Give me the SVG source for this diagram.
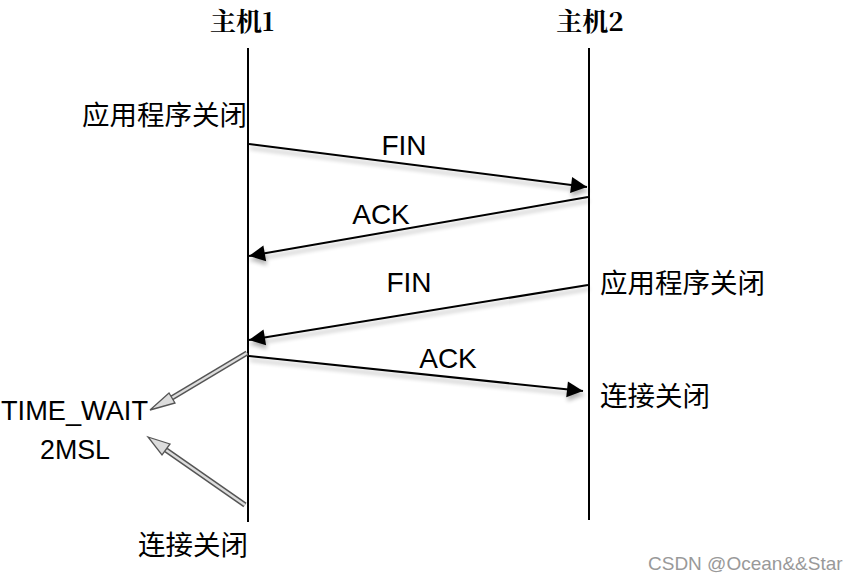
<svg xmlns="http://www.w3.org/2000/svg" width="856" height="580" viewBox="0 0 856 580">
<style>
.cn{font-family:"Noto Sans CJK SC","Noto Sans",sans-serif;font-size:27.5px;fill:#000}
.hd{font-family:"Noto Serif CJK SC","Liberation Serif","Noto Sans CJK SC",serif;font-size:26px;font-weight:bold;fill:#000}
.lb{font-family:"Liberation Sans","Noto Sans",sans-serif;font-size:28px;fill:#000}
.sm{font-family:"Liberation Sans","Noto Sans",sans-serif;font-size:27px;fill:#000}
.life{stroke:#000;stroke-width:2;fill:none}
.msg{stroke:#000;stroke-width:2;fill:none;marker-end:url(#ah)}
.hol{stroke:#555;stroke-width:5.5;fill:none}
.holi{stroke:#ddd;stroke-width:2.4;fill:none}
.wm{font-family:"Liberation Sans","Noto Sans",sans-serif;font-size:19px;fill:#999}
</style>
<defs>
<marker id="ah" viewBox="0 0 10 10" refX="10" refY="5" markerWidth="10" markerHeight="8" markerUnits="userSpaceOnUse" orient="auto" overflow="visible">
<path d="M0,0 L10,5 L0,10 z" fill="#000" transform="scale(2)" transform-origin="10 5"/>
</marker>
<filter id="sh" x="-10%" y="-50%" width="120%" height="200%">
<feGaussianBlur in="SourceAlpha" stdDeviation="2"/>
<feOffset dx="1" dy="4" result="b"/>
<feComponentTransfer><feFuncA type="linear" slope="0.3"/></feComponentTransfer>
<feMerge><feMergeNode/><feMergeNode in="SourceGraphic"/></feMerge>
</filter>
</defs>
<g id="host1">
<text class="hd" x="242" y="31" text-anchor="middle">主机1</text>
<line class="life" x1="248" y1="48" x2="248" y2="522"/>
</g>
<g id="host2">
<text class="hd" x="590" y="31" text-anchor="middle">主机2</text>
<line class="life" x1="589" y1="48" x2="589" y2="520"/>
</g>
<g id="labels">
<text class="cn" x="82" y="125">应用程序关闭</text>
<text class="cn" x="600" y="293">应用程序关闭</text>
<text class="cn" x="600" y="406">连接关闭</text>
<text class="cn" x="138" y="555">连接关闭</text>
<text class="sm" x="1" y="420" textLength="147" lengthAdjust="spacingAndGlyphs">TIME_WAIT</text>
<text class="sm" x="40" y="459" textLength="70" lengthAdjust="spacingAndGlyphs">2MSL</text>
</g>
<g id="connectors">
<g filter="url(#sh)">
<line class="msg" x1="249" y1="144" x2="587" y2="187"/>
<line class="msg" x1="588" y1="197" x2="249" y2="256"/>
<line class="msg" x1="588" y1="285" x2="249" y2="340"/>
<line class="msg" x1="249" y1="356" x2="583" y2="391"/>
</g>
<text class="lb" x="404" y="155" text-anchor="middle">FIN</text>
<text class="lb" x="381" y="224" text-anchor="middle">ACK</text>
<text class="lb" x="409" y="292" text-anchor="middle">FIN</text>
<text class="lb" x="448" y="368" text-anchor="middle">ACK</text>
<g id="hollow1">
<line class="hol" x1="247" y1="353" x2="170" y2="399"/>
<line class="holi" x1="247" y1="353" x2="170" y2="399"/>
<path d="M150,410 L169,393 L175,403 z" fill="#ddd" stroke="#555" stroke-width="1.3"/>
</g>
<g id="hollow2">
<line class="hol" x1="245" y1="505" x2="166" y2="450"/>
<line class="holi" x1="245" y1="505" x2="166" y2="450"/>
<path d="M148,437 L170,444 L162,455 z" fill="#ddd" stroke="#555" stroke-width="1.3"/>
</g>
</g>
<text class="wm" x="648" y="570">CSDN @Ocean&amp;&amp;Star</text>
</svg>
